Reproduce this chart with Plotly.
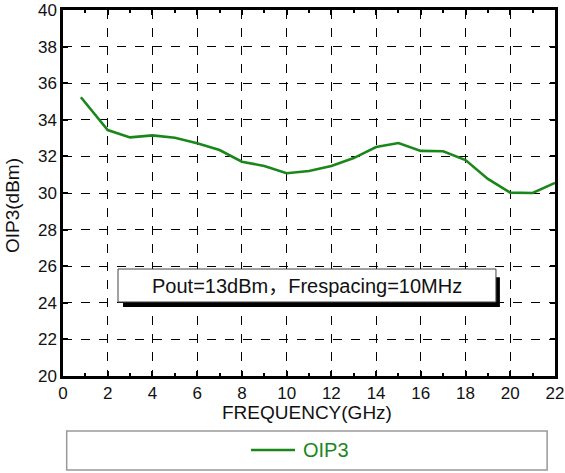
import plotly.graph_objects as go

# OIP3 versus frequency
freq_ghz = [0.8, 2, 3, 4, 5, 6, 7, 8, 9, 10, 11, 12, 13, 14, 15, 16, 17, 18, 19, 20, 21, 22]
oip3_dbm = [35.23, 33.44, 33.04, 33.15, 33.02, 32.72, 32.35, 31.71, 31.48, 31.08, 31.2, 31.48,
            31.91, 32.51, 32.73, 32.3, 32.28, 31.8, 30.77, 30.02, 30.0, 30.55]

x_ticks = list(range(0, 23, 2))
y_ticks = list(range(20, 41, 2))

GREEN = "#1b871b"
INK = "#111"
FONT = "Liberation Sans, Arial, Noto Sans CJK SC, sans-serif"

fig = go.Figure()
fig.add_trace(go.Scatter(
    x=freq_ghz, y=oip3_dbm, mode="lines", name="OIP3",
    line=dict(color=GREEN, width=2.6), showlegend=False,
))

axis_common = dict(
    showline=True, linecolor="black", linewidth=2.5, mirror="allticks",
    ticks="inside", ticklen=5, tickcolor="black", tickwidth=1.5,
    showgrid=True, gridcolor="black", gridwidth=1, griddash="dash",
    zeroline=False, automargin=False, ticklabeloverflow="allow",
    tickfont=dict(size=17, color=INK, family=FONT),
)

fig.update_xaxes(
    range=[0, 22], tickvals=x_ticks,
    minor=dict(ticks="inside", dtick=1, ticklen=3, tickcolor="black", showgrid=False),
    **axis_common,
)
fig.update_yaxes(range=[20, 40], tickvals=y_ticks, **axis_common)

# axis titles
fig.add_annotation(xref="paper", yref="paper", x=0.496, y=-0.0995,
                   xanchor="center", yanchor="middle", showarrow=False,
                   text="FREQUENCY(GHz)", font=dict(size=19, color=INK, family=FONT))
fig.add_annotation(xref="paper", yref="paper", x=-0.1037, y=0.467,
                   xanchor="center", yanchor="middle", showarrow=False, textangle=-90,
                   text="OIP3(dBm)", font=dict(size=19, color=INK, family=FONT))

# condition label box with drop shadow
fig.add_shape(type="rect", xref="paper", yref="paper", x0=0.122, x1=0.888, y0=0.1885, y1=0.27,
              fillcolor="black", line=dict(width=0), layer="above")
fig.add_shape(type="rect", xref="paper", yref="paper", x0=0.1118, x1=0.880, y0=0.2022, y1=0.2923,
              fillcolor="white", line=dict(color="#444", width=1), layer="above")
fig.add_annotation(xref="paper", yref="paper", x=0.496, y=0.246,
                   xanchor="center", yanchor="middle", showarrow=False,
                   text="Pout=13dBm，Frespacing=10MHz",
                   font=dict(size=20, color=INK, family=FONT))

# legend frame below the plot, with the series key
fig.add_shape(type="rect", xref="paper", yref="paper", x0=0.0075, x1=0.984, y0=-0.257, y1=-0.150,
              fillcolor="white", line=dict(color="#999", width=1.5), layer="below")
fig.add_shape(type="line", xref="paper", yref="paper", x0=0.382, x1=0.4715, y0=-0.2022, y1=-0.2022,
              line=dict(color=GREEN, width=2.6))
fig.add_annotation(xref="paper", yref="paper", x=0.4837, y=-0.2022,
                   xanchor="left", yanchor="middle", showarrow=False,
                   text="OIP3", font=dict(size=20, color=GREEN, family=FONT))

fig.update_layout(
    width=565, height=473,
    margin=dict(l=63, r=10, t=10, b=97),
    paper_bgcolor="white", plot_bgcolor="white",
    font=dict(family=FONT),
    showlegend=False,
)

fig.write_html("out.html")
